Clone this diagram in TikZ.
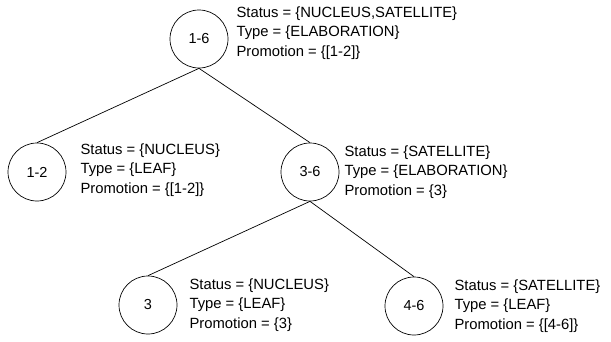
\documentclass[tikz,border=0pt]{standalone}
\usepackage{fontspec}
\setmainfont{Liberation Sans}
\usetikzlibrary{positioning}

\begin{document}
\begin{tikzpicture}[x=1pt,y=-1pt,
  span/.style={draw,circle,minimum size=58pt,inner sep=0pt,line width=0.7pt,font=\fontsize{14.5}{16}\selectfont},
  info/.style={align=left,inner sep=0pt,font=\fontsize{14.8}{19.5}\selectfont}]
  \useasboundingbox (0,0) rectangle (611,341);
  \node[span] (n16) at (199,39) {1-6};
  \node[span] (n12) at (37,172) {1-2};
  \node[span] (n36) at (310,172) {3-6};
  \node[span] (n3) at (148,305) {3};
  \node[span] (n46) at (414,306) {4-6};
  \node[info,right=8pt of n16,yshift=6pt] (i16) {Status = \{NUCLEUS,SATELLITE\}\\Type = \{ELABORATION\}\\Promotion = \{[1-2]\}};
  \node[info,right=14pt of n12,yshift=2pt] (i12) {Status = \{NUCLEUS\}\\Type = \{LEAF\}\\Promotion = \{[1-2]\}};
  \node[info,right=5pt of n36] (i36) {Status = \{SATELLITE\}\\Type = \{ELABORATION\}\\Promotion = \{3\}};
  \node[info,right=12pt of n3] (i3) {Status = \{NUCLEUS\}\\Type = \{LEAF\}\\Promotion = \{3\}};
  \node[info,right=11pt of n46] (i46) {Status = \{SATELLITE\}\\Type = \{LEAF\}\\Promotion = \{[4-6]\}};
  \draw[line width=0.7pt] (n16.south) -- (n12.north);
  \draw[line width=0.7pt] (n16.south) -- (n36.north);
  \draw[line width=0.7pt] (n36.south) -- (n3.north);
  \draw[line width=0.7pt] (n36.south) -- (n46.north);
\end{tikzpicture}
\end{document}
